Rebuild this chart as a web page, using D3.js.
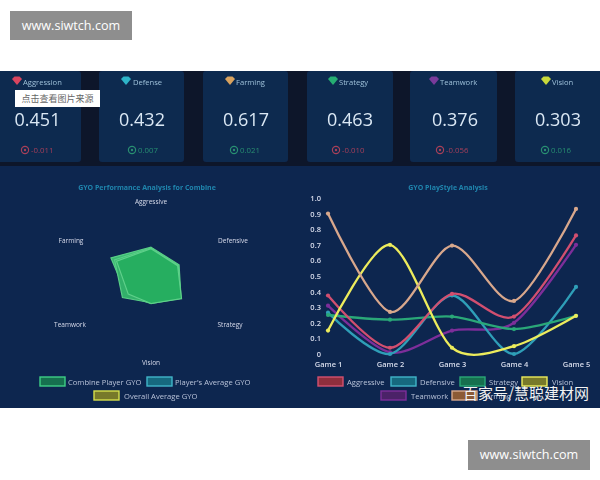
<!DOCTYPE html>
<html><head><meta charset="utf-8">
<script src="https://cdn.jsdelivr.net/npm/d3@7/dist/d3.min.js"></script>
<style>html,body{margin:0;padding:0;background:#fff}svg{display:block}</style>
</head><body><svg id="c" width="600" height="480"></svg>
<script>
const statNames=["Aggression","Defense","Farming","Strategy","Teamwork","Vision"];
const statValues=["0.451","0.432","0.617","0.463","0.376","0.303"];
const statDeltas=["-0.011","0.007","0.021","-0.010","-0.056","0.016"];
const statGems=["#d9455f","#2fb4c8","#d8a25e","#27ae72","#7a3a9a","#c9d93a"];
const radarAxes=["Aggressive","Defensive","Strategy","Vision","Teamwork","Farming"];
const radarCombine=[0.451,0.432,0.463,0.303,0.376,0.617];
const radarAverage=[0.44,0.42,0.45,0.29,0.44,0.56];
const radarOverall=[0.43,0.41,0.47,0.30,0.35,0.53];
const games=["Game 1","Game 2","Game 3","Game 4","Game 5"];
const aggressive=[0.375,0.04,0.385,0.24,0.76];
const defensive=[0.265,0,0.375,0,0.43];
const strategy=[0.25,0.22,0.24,0.16,0.245];
const vision=[0.15,0.70,0.04,0.05,0.245];
const teamwork=[0.31,0.01,0.15,0.20,0.70];
const farming=[0.90,0.27,0.695,0.34,0.93];
const yTicks=["0","0.1","0.2","0.3","0.4","0.5","0.6","0.7","0.8","0.9","1.0"];

const font="'Open Sans',sans-serif";
const svg=d3.select("#c");
const defs=svg.append("defs");
defs.append("filter").attr("id","soft").attr("x","-5%").attr("y","-5%").attr("width","110%").attr("height","110%")
  .append("feGaussianBlur").attr("stdDeviation",0.6);
const root=svg.append("g").attr("filter","url(#soft)");
root.append("rect").attr("x",0).attr("y",71).attr("width",600).attr("height",337).attr("fill","#07162c");
root.append("rect").attr("x",0).attr("y",166).attr("width",600).attr("height",242).attr("fill","#102550");

// stat cards
const cardX=[-6,99,203,307,410,515], cardW=[87,85,85,86,87,90];
const gemX=[12,121,225,328,429,541], labelX=[23,133,236,339,440,552];
const valueX=[37.5,142,246,350,455,558];
const circleX=[25,132,234,336,440,545];
const cards=root.selectAll("g.card").data(statNames).join("g").attr("class","card");
cards.append("rect").attr("x",(d,i)=>cardX[i]).attr("y",71).attr("width",(d,i)=>cardW[i]).attr("height",91).attr("rx",3).attr("fill","#0c2a50");
cards.each(function(name,i){
  const g=d3.select(this);
  g.append("path").attr("d",`M${gemX[i]},79 l2.5,-2.5 h5 l2.5,2.5 l-5,6 z`).attr("fill",statGems[i]);
  g.append("text").attr("x",labelX[i]).attr("y",85).attr("fill","#9fc0d8").attr("font-size",7.6).attr("font-family",font).text(name);
  g.append("text").attr("x",valueX[i]).attr("y",126).attr("text-anchor","middle").attr("fill","#dbe8f4").attr("font-size",18).attr("font-family",font).text(statValues[i]);
  const neg=statDeltas[i][0]==="-", col=neg?"#a83f58":"#2a8f70";
  g.append("circle").attr("cx",circleX[i]).attr("cy",150).attr("r",3.6).attr("fill","none").attr("stroke",col).attr("stroke-width",1.2);
  g.append("circle").attr("cx",circleX[i]).attr("cy",150).attr("r",1.2).attr("fill",col);
  g.append("text").attr("x",circleX[i]+6).attr("y",153).attr("fill",col).attr("font-size",7.8).attr("font-family",font).text(statDeltas[i]);
});

// radar
const center=[151,281];
const r=d3.scaleLinear().domain([0,1]).range([0,75]);
const ang=d3.scalePoint().domain(radarAxes).range([0,300]);
const pt=(a,v)=>{const t=ang(a)*Math.PI/180;return [center[0]+r(v)*Math.sin(t),center[1]-r(v)*Math.cos(t)];};
const radarLine=d3.line();
root.append("text").attr("x",147).attr("y",190).attr("text-anchor","middle").attr("fill","#1f86ad").attr("font-size",7).attr("font-weight",700).attr("font-family",font).text("GYO Performance Analysis for Combine");
[[radarCombine,"#58cf86","#3cb873"],[radarAverage,"#58cf86","#33b06a"],[radarOverall,"#5ed08a","#27ae60"]].forEach(([s,st,f])=>{
  root.append("path").attr("d",radarLine(radarAxes.map((a,i)=>pt(a,s[i])))+"Z").attr("fill",f).attr("stroke",st).attr("stroke-width",1.2);
});
const radarLabelPos=[[151,204],[233,243],[230,327],[151,365],[70,327],[71,243]];
root.selectAll("text.ra").data(radarAxes).join("text").attr("class","ra")
  .attr("x",(d,i)=>radarLabelPos[i][0]).attr("y",(d,i)=>radarLabelPos[i][1]).attr("text-anchor","middle")
  .attr("fill","#d4dcea").attr("font-size",6.5).attr("font-family",font).text(d=>d);

function legend(x,y,label,stroke,fill,tx){
  root.append("rect").attr("x",x).attr("y",y).attr("width",25).attr("height",9).attr("fill",fill).attr("stroke",stroke).attr("stroke-width",1.4);
  root.append("text").attr("x",tx).attr("y",y+7.5).attr("fill","#b6c4d8").attr("font-size",7.6).attr("font-family",font).text(label);
}
legend(40,377,"Combine Player GYO","#3ecf85","#12704f",68);
legend(147,377,"Player's Average GYO","#3fb6c9","#14697f",175);
legend(94,391,"Overall Average GYO","#d6e04a","#77792a",124);

// line chart
const x=d3.scalePoint().domain(games).range([328,576]);
const y=d3.scaleLinear().domain([0,1]).range([354,198]);
root.append("text").attr("x",448).attr("y",190).attr("text-anchor","middle").attr("fill","#1f86ad").attr("font-size",7).attr("font-weight",700).attr("font-family",font).text("GYO PlayStyle Analysis");
const yAxis=d3.axisLeft(y).tickValues(yTicks.map(Number)).tickFormat((d,i)=>yTicks[i]).tickSize(0);
root.append("g").attr("transform","translate(322,0)").call(yAxis)
  .call(g=>g.select(".domain").remove())
  .call(g=>g.selectAll("text").attr("fill","#d4dcea").attr("font-size",7.5).attr("font-family",font).attr("font-weight",600).attr("x",-1));
const xAxis=d3.axisBottom(x).tickSize(0);
root.append("g").attr("transform","translate(0,360)").call(xAxis)
  .call(g=>g.select(".domain").remove())
  .call(g=>g.selectAll("text").attr("fill","#d4dcea").attr("font-size",7.5).attr("font-family",font).attr("font-weight",600).attr("dy",0).attr("y",7));
const line=d3.line().x((d,i)=>x(games[i])).y(d=>y(d)).curve(d3.curveCardinal.tension(0.15));
const series=[[teamwork,"#7d2f9a"],[defensive,"#2f9fb8"],[strategy,"#2aa878"],[aggressive,"#d2506f"],[vision,"#ecec5c"],[farming,"#d8a88c"]];
series.forEach(([s,c])=>{
  root.append("path").attr("d",line(s)).attr("fill","none").attr("stroke",c).attr("stroke-width",2.3);
  root.selectAll(null).data(s).join("circle").attr("cx",(d,i)=>x(games[i])).attr("cy",d=>y(d)).attr("r",2.1).attr("fill",c);
});
legend(318,377,"Aggressive","#d2506f","#8f2f3c",347);
legend(391,377,"Defensive","#3fb6c9","#14697f",420);
legend(460,377,"Strategy","#2aa878","#12704f",489);
legend(522,377,"Vision","#ecec5c","#77792a",552);
legend(381,391,"Teamwork","#7d2f9a","#4c2368",411);
legend(452,391,"Farming","#d8a88c","#8c5a34",482);

// overlays
const over=svg.append("g");
over.append("text").attr("x",463).attr("y",399).attr("fill","#f2f2f2").attr("font-size",15).attr("font-family","'Noto Sans CJK SC'").text("百家号/慧聪建材网");
over.append("rect").attr("x",15).attr("y",90).attr("width",85).attr("height",17).attr("fill","#fff");
over.append("text").attr("x",57.5).attr("y",102).attr("text-anchor","middle").attr("fill","#666").attr("font-size",9).attr("font-family","'Noto Sans CJK SC'").text("点击查看图片来源");
[[10,11,122,29],[468,440,122,30]].forEach(([a,b,w,h])=>{
  over.append("rect").attr("x",a).attr("y",b).attr("width",w).attr("height",h).attr("fill","#8e8e8e");
  over.append("text").attr("x",a+w/2).attr("y",b+h/2+4).attr("text-anchor","middle").attr("fill","#fff").attr("font-size",12.6).attr("font-weight",500).attr("font-family",font).text("www.siwtch.com");
});
</script></body></html>
